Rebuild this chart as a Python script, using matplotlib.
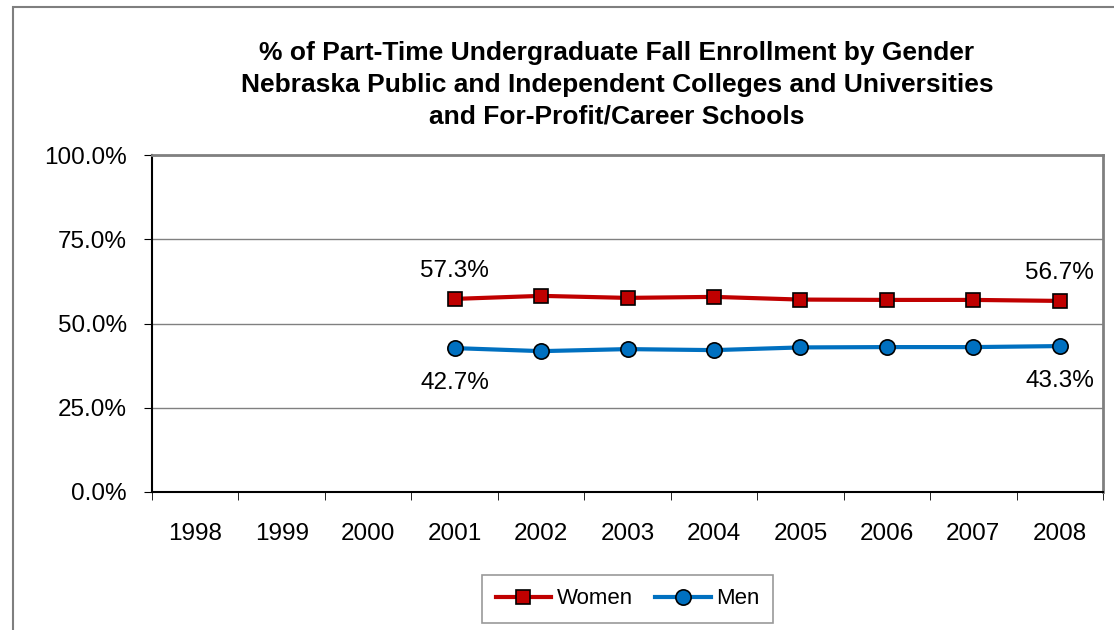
import numpy as np
import matplotlib.pyplot as plt
from matplotlib.patches import Rectangle

plt.rcParams['font.family'] = ['Liberation Sans', 'DejaVu Sans']

years = ['1998', '1999', '2000', '2001', '2002', '2003', '2004', '2005', '2006', '2007', '2008']
women_years = ['2001', '2002', '2003', '2004', '2005', '2006', '2007', '2008']
women = [57.3, 58.2, 57.6, 57.9, 57.1, 57.0, 57.0, 56.7]
men = [42.7, 41.8, 42.4, 42.1, 42.9, 43.0, 43.0, 43.3]

title = ('% of Part-Time Undergraduate Fall Enrollment by Gender\n'
         'Nebraska Public and Independent Colleges and Universities\n'
         'and For-Profit/Career Schools')

fig = plt.figure(figsize=(11.14, 6.3), dpi=100)
ax = fig.add_axes([152 / 1114, 138 / 630, 951 / 1114, 337 / 630])

# outer chart border
fig.patches.append(Rectangle((13 / 1114, -0.1), 1.2, 1.1 - 7 / 630,
                             transform=fig.transFigure, fill=False,
                             edgecolor='#7f7f7f', linewidth=1.5))

xpos = [years.index(y) for y in women_years]
ax.plot(xpos, women, color='#C00000', linewidth=3, marker='s', markersize=10,
        markerfacecolor='#C00000', markeredgecolor='black', markeredgewidth=1.2,
        label='Women', zorder=3)
ax.plot(xpos, men, color='#0070C0', linewidth=3, marker='o', markersize=11,
        markerfacecolor='#0070C0', markeredgecolor='black', markeredgewidth=1.2,
        label='Men', zorder=3)

for i in [0, -1]:
    ax.annotate(f'{women[i]:.1f}%', (xpos[i], women[i]), xytext=(0, 12),
                textcoords='offset points', ha='center', va='bottom', fontsize=17.5)
    ax.annotate(f'{men[i]:.1f}%', (xpos[i], men[i]), xytext=(0, -17),
                textcoords='offset points', ha='center', va='top', fontsize=17.5)

ax.set_xlim(-0.5, len(years) - 0.5)
ax.set_ylim(0, 100)
ax.set_yticks([0, 25, 50, 75, 100])
ax.set_yticklabels([f'{v:.1f}%' for v in [0, 25, 50, 75, 100]], fontsize=17.5)
ax.set_xticks(range(len(years)))
ax.set_xticklabels(years, fontsize=17.5)
ax.set_xticks(np.arange(-0.5, len(years)), minor=True)
ax.tick_params(axis='x', which='major', length=0, pad=22)
ax.tick_params(axis='x', which='minor', length=6, direction='out', color='black')
ax.tick_params(axis='y', length=6, direction='out', pad=12)
ax.grid(axis='y', color='#808080', linewidth=1)
ax.set_axisbelow(True)
for s in ['top', 'right']:
    ax.spines[s].set_color('#808080')
    ax.spines[s].set_linewidth(2)
for s in ['left', 'bottom']:
    ax.spines[s].set_color('black')
    ax.spines[s].set_linewidth(1.5)

fig.text(617 / 1114, 1 - 85 / 630, title, ha='center', va='center',
         fontsize=19, fontweight='bold', linespacing=1.4)

leg = ax.legend(loc='center', bbox_to_anchor=(0.5, (630 - 599 - 138) / 337),
                ncol=2, fontsize=16, frameon=True, fancybox=False,
                edgecolor='#808080', handlelength=2.5, columnspacing=1.0,
                handletextpad=0.25, borderpad=0.6, borderaxespad=0)
leg.get_frame().set_linewidth(1.2)

fig.savefig('out.png', dpi=100)
